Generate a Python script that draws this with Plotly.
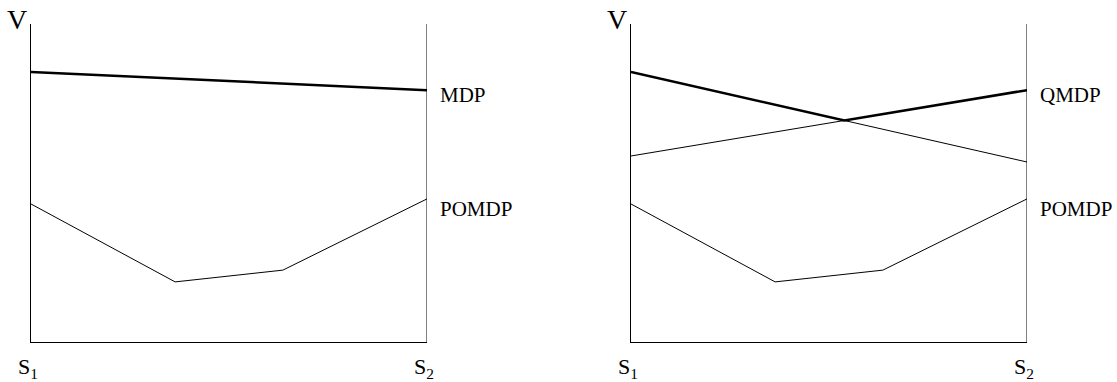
import plotly.graph_objects as go
from plotly.subplots import make_subplots

# belief over states: 0 = s1, 1 = s2
belief = [0.0, 1.0]
pomdp_belief = [0.0, 0.364, 0.636, 1.0]

# value functions
mdp_value = [8.49, 7.92]
pomdp_value = [4.34, 1.89, 2.26, 4.50]
qmdp_alpha_a = [8.49, 5.66]
qmdp_alpha_b = [5.85, 7.92]
# upper envelope of the two QMDP alpha vectors
qmdp_cross = (qmdp_alpha_b[0] - qmdp_alpha_a[0]) / (
    (qmdp_alpha_a[1] - qmdp_alpha_a[0]) - (qmdp_alpha_b[1] - qmdp_alpha_b[0])
)
qmdp_env_x = [0.0, qmdp_cross, 1.0]
qmdp_env_y = [qmdp_alpha_a[0],
              qmdp_alpha_a[0] + qmdp_cross * (qmdp_alpha_a[1] - qmdp_alpha_a[0]),
              qmdp_alpha_b[1]]

FONT = "Liberation Serif"
W, H = 1117, 382

fig = make_subplots(rows=1, cols=2)

thin = dict(color="black", width=1)
bold = dict(color="black", width=2.5)

# left panel: MDP vs POMDP
fig.add_trace(go.Scatter(x=belief, y=mdp_value, mode="lines", line=bold), row=1, col=1)
fig.add_trace(go.Scatter(x=pomdp_belief, y=pomdp_value, mode="lines", line=thin), row=1, col=1)

# right panel: QMDP vs POMDP
fig.add_trace(go.Scatter(x=belief, y=qmdp_alpha_a, mode="lines", line=thin), row=1, col=2)
fig.add_trace(go.Scatter(x=belief, y=qmdp_alpha_b, mode="lines", line=thin), row=1, col=2)
fig.add_trace(go.Scatter(x=qmdp_env_x, y=qmdp_env_y, mode="lines", line=bold), row=1, col=2)
fig.add_trace(go.Scatter(x=pomdp_belief, y=pomdp_value, mode="lines", line=thin), row=1, col=2)

y_bottom, y_top = 342, 24
dom_y = [1 - y_bottom / H, 1 - y_top / H]
axis_common = dict(showgrid=False, zeroline=False, showticklabels=False,
                   ticks="", showline=True, linecolor="black", linewidth=1)

fig.update_layout(
    width=W, height=H, margin=dict(l=0, r=0, t=0, b=0),
    paper_bgcolor="white", plot_bgcolor="white", showlegend=False,
    xaxis=dict(domain=[31 / W, 427 / W], range=[0, 1], **axis_common),
    xaxis2=dict(domain=[631 / W, 1027 / W], range=[0, 1], **axis_common),
    yaxis=dict(domain=dom_y, range=[0, 10], **axis_common),
    yaxis2=dict(domain=dom_y, range=[0, 10], **axis_common),
)

# right-hand vertical line at s2 in each panel
for xr, yr in (("x", "y"), ("x2", "y2")):
    fig.add_shape(type="line", xref=xr, yref=f"{yr} domain", x0=1, x1=1, y0=0, y1=1,
                  line=dict(color="black", width=1))

annots = []
for xr, yr in (("x", "y"), ("x2", "y2")):
    annots.append(dict(xref=xr, yref=f"{yr} domain", x=0, y=1, text="V",
                       xanchor="center", yanchor="middle", xshift=-14, yshift=4,
                       showarrow=False, font=dict(family=FONT, size=28, color="black")))
    annots.append(dict(xref=xr, yref="paper", x=0, y=1 - 368 / H, text="S<sub>1</sub>",
                       xanchor="center", yanchor="middle", xshift=-3,
                       showarrow=False, font=dict(family=FONT, size=22, color="black")))
    annots.append(dict(xref=xr, yref="paper", x=1, y=1 - 368 / H, text="S<sub>2</sub>",
                       xanchor="center", yanchor="middle", xshift=-3,
                       showarrow=False, font=dict(family=FONT, size=22, color="black")))

label_font = dict(family=FONT, size=21, color="black")
annots.append(dict(xref="x", yref="y", x=1, y=mdp_value[-1], text="MDP", xanchor="left",
                   yanchor="middle", xshift=11, yshift=-5, showarrow=False, font=label_font))
annots.append(dict(xref="x", yref="y", x=1, y=pomdp_value[-1], text="POMDP", xanchor="left",
                   yanchor="middle", xshift=11, yshift=-10, showarrow=False, font=label_font))
annots.append(dict(xref="x2", yref="y2", x=1, y=qmdp_alpha_b[-1], text="QMDP", xanchor="left",
                   yanchor="middle", xshift=11, yshift=-5, showarrow=False, font=label_font))
annots.append(dict(xref="x2", yref="y2", x=1, y=pomdp_value[-1], text="POMDP", xanchor="left",
                   yanchor="middle", xshift=11, yshift=-10, showarrow=False, font=label_font))
fig.update_layout(annotations=annots)

fig.write_html("out.html")
